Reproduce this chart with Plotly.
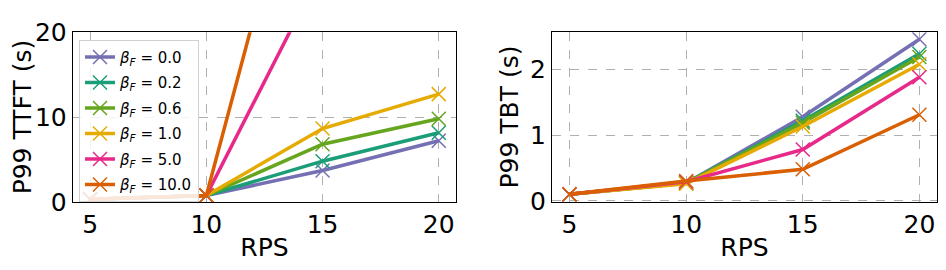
import plotly.graph_objects as go

rps = [5, 10, 15, 20]
betas = ["0.0", "0.2", "0.6", "1.0", "5.0", "10.0"]
colors = ["#7570b3", "#1b9e77", "#66a61e", "#e6ab02", "#e7298a", "#d95f02"]

ttft = [
    [0.3, 0.75, 3.7, 7.2],
    [0.3, 0.75, 4.8, 8.15],
    [0.3, 0.75, 6.8, 9.8],
    [0.3, 0.75, 8.65, 12.7],
    [0.3, 0.75, 27.6, 60.0],
    [0.3, 0.75, 52.0, 110.0],
]
tbt = [
    [0.1, 0.27, 1.28, 2.46],
    [0.1, 0.27, 1.22, 2.24],
    [0.1, 0.27, 1.19, 2.19],
    [0.1, 0.26, 1.13, 2.08],
    [0.1, 0.29, 0.78, 1.88],
    [0.1, 0.30, 0.48, 1.31],
]

FONT = "DejaVu Sans"
# the page body keeps an 8px margin, so the figure is 16px smaller than the window
W, H = 930, 254

fig = go.Figure()
for i, b in enumerate(betas):
    name = f"<i>β</i><sub><i>F</i></sub> = {b}"
    common = dict(mode="lines+markers",
                  line=dict(color=colors[i], width=3.5),
                  marker=dict(symbol="x-thin", size=14, line=dict(color=colors[i], width=1.5)))
    fig.add_trace(go.Scatter(x=rps, y=ttft[i], name=name, legendgroup=f"g{i}",
                             xaxis="x", yaxis="y", **common))
    fig.add_trace(go.Scatter(x=rps, y=tbt[i], name=name, legendgroup=f"g{i}",
                             showlegend=False, xaxis="x2", yaxis="y2", **common))

axis_common = dict(showline=True, linecolor="black", linewidth=1, mirror=True,
                   showgrid=True, gridcolor="#b0b0b0", griddash="dash", gridwidth=1,
                   zeroline=False, ticks="", ticklabeloverflow="allow",
                   tickfont=dict(size=25, color="black", family=FONT),
                   title_font=dict(size=25, color="black", family=FONT))

ydom = [1 - 203.1 / H, 1 - 11.5 / H]
fig.update_layout(
    width=W, height=H,
    margin=dict(l=0, r=0, t=0, b=0),
    paper_bgcolor="white", plot_bgcolor="white",
    font=dict(family=FONT, color="black"),
    showlegend=True,
    legend=dict(x=71 / W, y=1 - 20 / H, xanchor="left", yanchor="top",
                bgcolor="rgba(255,255,255,0.85)", bordercolor="#d0d0d0", borderwidth=1,
                font=dict(size=15, family=FONT), tracegroupgap=3, traceorder="grouped"),
    xaxis=dict(domain=[64.7 / W, 448.2 / W], range=[4.25, 20.75], tickvals=[5, 10, 15, 20],
               anchor="y", title=dict(text="RPS", standoff=2), **axis_common),
    yaxis=dict(domain=ydom, range=[0, 20], tickvals=[0, 10, 20],
               anchor="x", title=dict(text="P99 TTFT (s)", standoff=4), **axis_common),
    xaxis2=dict(domain=[544.0 / W, 928.9 / W], range=[4.25, 20.75], tickvals=[5, 10, 15, 20],
                anchor="y2", title=dict(text="RPS", standoff=2), **axis_common),
    yaxis2=dict(domain=ydom, range=[-0.0175, 2.5675], tickvals=[0, 1, 2],
                anchor="x2", title=dict(text="P99 TBT (s)", standoff=4), **axis_common),
)

fig.write_html("out.html")
